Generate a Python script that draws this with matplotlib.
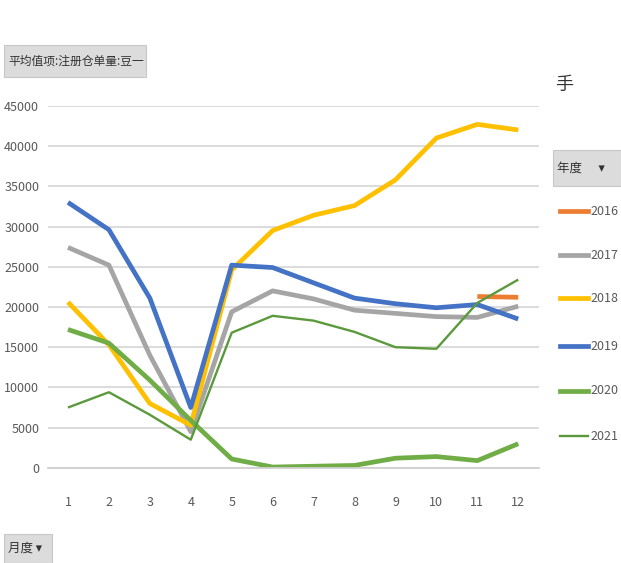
import numpy as np
import matplotlib
matplotlib.use('Agg')
import matplotlib.pyplot as plt
from matplotlib.lines import Line2D
from matplotlib.patches import Rectangle

plt.rcParams['font.family'] = ['Noto Sans CJK SC', 'DejaVu Sans']

# ── 数据 ──────────────────────────────────────────
months = list(range(1, 13))
y2016 = [np.nan] * 10 + [21300, 21200]
y2017 = [27400, 25200, 14000, 4500, 19400, 22000, 21000, 19600, 19200, 18800, 18700, 20100]
y2018 = [20600, 15300, 8000, 5300, 24600, 29500, 31400, 32600, 35800, 41000, 42700, 42000]
y2019 = [33000, 29600, 21100, 7500, 25200, 24900, 23000, 21100, 20400, 19900, 20300, 18500]
y2020 = [17200, 15500, 10900, 5900, 1100, 100, 200, 300, 1200, 1400, 900, 3000]
y2021 = [7500, 9400, 6600, 3500, 16800, 18900, 18300, 16900, 15000, 14800, 20500, 23400]

years = ['2016', '2017', '2018', '2019', '2020', '2021']
series = [y2016, y2017, y2018, y2019, y2020, y2021]
colors = ['#ED7D31', '#A5A5A5', '#FFC000', '#4472C4', '#70AD47', '#5B9A3C']
widths = [3.4, 3.4, 3.4, 3.4, 3.4, 1.7]

yticks = list(range(0, 45001, 5000))

fig = plt.figure(figsize=(6.21, 5.63), dpi=100)
ax = fig.add_axes([0.0765, 0.169, 0.791, 0.643])

for vals, c, lw in zip(series, colors, widths):
    ax.plot(months, vals, color=c, lw=lw, solid_joinstyle='round', solid_capstyle='butt')

ax.set_xlim(0.5, 12.5)
ax.set_ylim(0, 45000)
ax.set_xticks(months)
ax.set_yticks(yticks)
ax.set_yticklabels([str(v) for v in yticks])
ax.yaxis.grid(True, color='#d9d9d9', lw=1.3)
ax.set_axisbelow(True)
for s in ['top', 'right', 'left']:
    ax.spines[s].set_visible(False)
ax.spines['bottom'].set_color('#d0d0d0')
ax.spines['bottom'].set_linewidth(1.3)
ax.tick_params(length=0, labelsize=9, colors='#595959', pad=6)
ax.tick_params(axis='x', pad=20)

# 字段按钮
def button(x, y, w, h, text, size=9):
    fig.patches.append(Rectangle((x / 621, 1 - (y + h) / 563), w / 621, h / 563,
                                 transform=fig.transFigure, facecolor='#dcdcdc',
                                 edgecolor='#c8c8c8', lw=0.8))
    fig.text((x + 4) / 621, 1 - (y + h / 2) / 563, text, fontsize=size,
             va='center', ha='left', color='#333333')

button(4, 45, 142, 32, '平均值项:注册仓单量:豆一', size=8.5)
button(553, 150, 68, 36, '年度      ▾', size=9)
button(4, 534, 48, 29, '月度 ▾', size=9)

fig.text(555 / 621, 1 - 85 / 563, '手', fontsize=13, va='center', ha='left', color='#333333')

# 图例
leg_y = [211, 255, 298, 346, 391, 436]
for yr, c, lw, py in zip(years, colors, widths, leg_y):
    fy = 1 - py / 563
    fig.add_artist(Line2D([560 / 621, 588 / 621], [fy, fy], color=c, lw=lw,
                          transform=fig.transFigure))
    fig.text(590 / 621, fy, yr, fontsize=9, va='center', ha='left', color='#595959')

fig.savefig('out.png', dpi=100)
